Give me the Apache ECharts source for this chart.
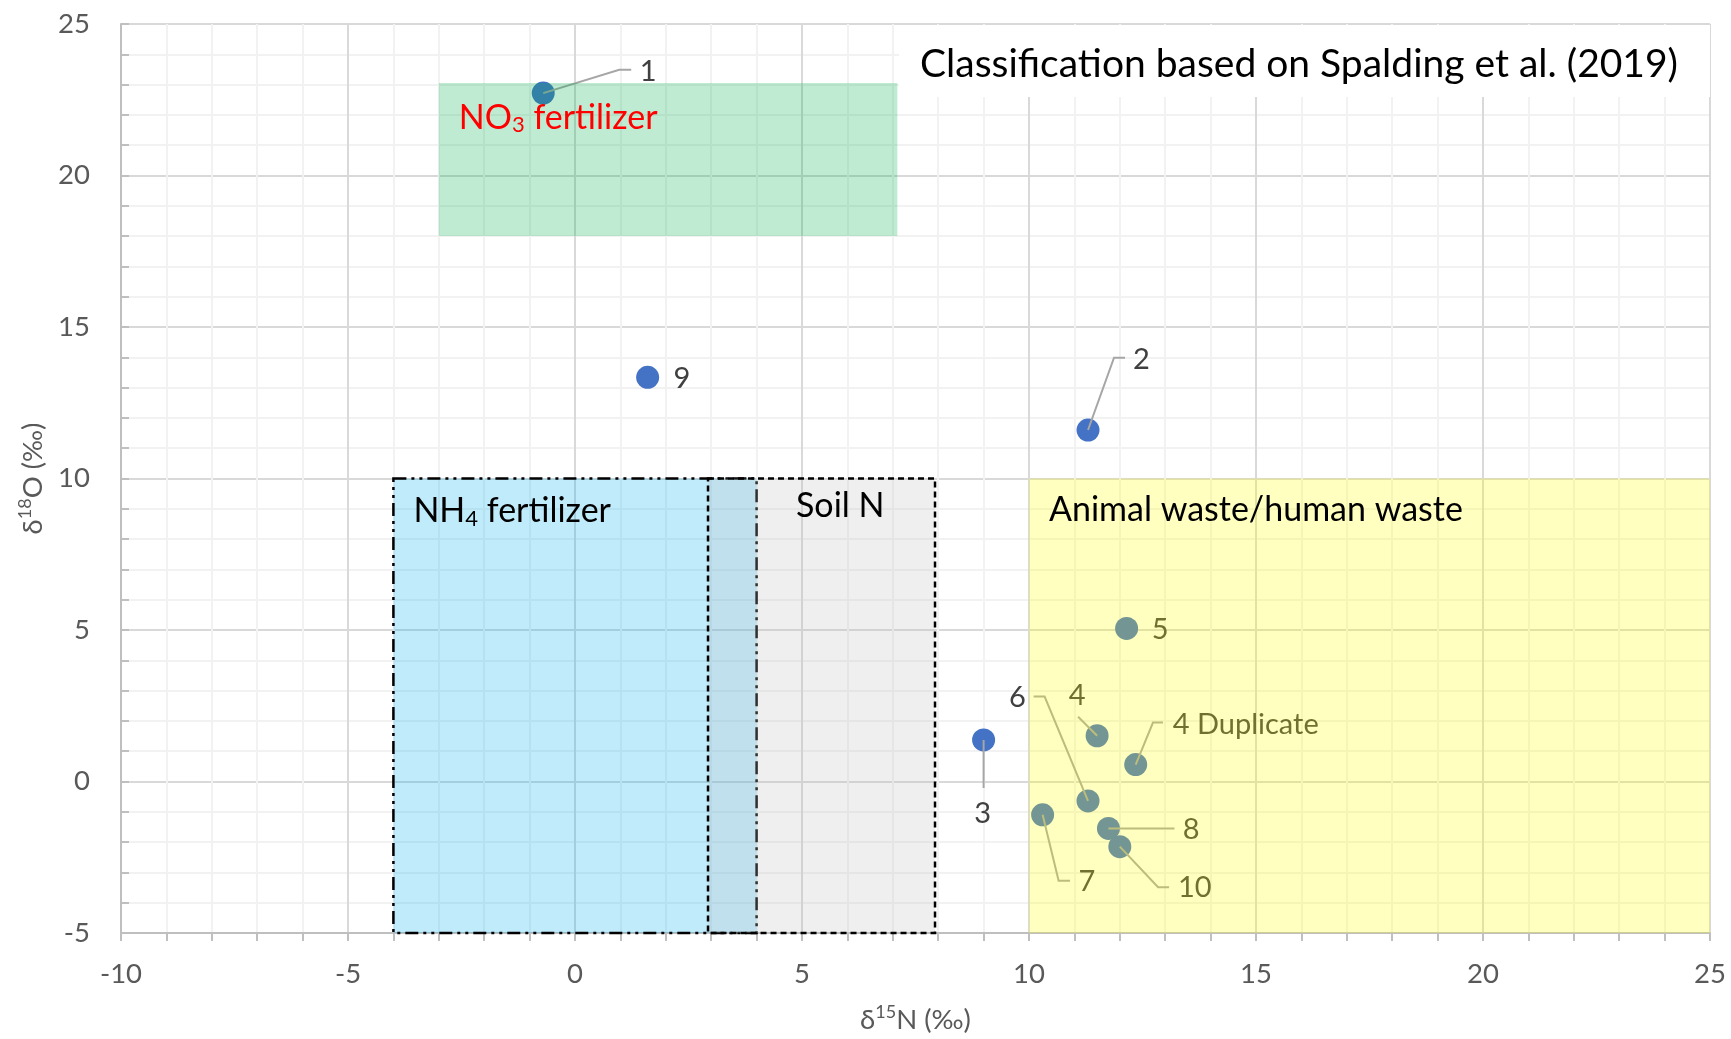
<!DOCTYPE html>
<html>
<head>
<meta charset="utf-8">
<title>Nitrate isotopes</title>
<script src="https://cdn.jsdelivr.net/npm/echarts@6/dist/echarts.min.js"></script>
<style>
  html, body { margin: 0; padding: 0; background: #fff; }
  #chart { width: 1731px; height: 1039px; }
</style>
</head>
<body>
<div id="chart"></div>
<script>
// samples
const sampleNames = ["1", "2", "3", "4", "5", "6", "7", "8", "9", "10", "4 Duplicate"];
const d15N = [-0.7, 11.3, 9.0, 11.5, 12.15, 11.3, 10.3, 11.75, 1.6, 12.0, 12.35];
const d18O = [22.72, 11.6, 1.37, 1.51, 5.05, -0.64, -1.1, -1.55, 13.34, -2.15, 0.56];

// source zones after Spalding et al. (2019)
const zoneNames = ["NO3 fertilizer", "NH4 fertilizer", "Soil N", "Animal waste/human waste"];
const zoneN = [[-3, 7.1], [-4, 4], [2.93, 7.93], [10, 25]];
const zoneO = [[18, 23.05], [-5, 10], [-5, 10], [-5, 10]];

// axes
const xRange = [-10, 25];
const yRange = [-5, 25];
const tickStep = 5;

const FONT = "Lato";
const AXIS_GRAY = "#bfbfbf";
const TEXT_GRAY = "#595959";

// look of each zone, text offset from top-left corner (px)
const zoneStyles = [
  { fill: "rgba(0,176,80,0.25)", color: "#ff0000", dx: 20, dy: 34 },
  { fill: "rgba(0,176,240,0.25)", stroke: "#000", dash: [13, 5, 3, 5, 3, 5], color: "#000", dx: 20, dy: 32 },
  { fill: "rgba(191,191,191,0.25)", stroke: "#000", dash: [6, 4], color: "#000", dx: 88, dy: 27 },
  { fill: "rgba(255,255,0,0.25)", color: "#000", dx: 20, dy: 31 },
];

// data label offset from marker centre (px) and leader line bends
const labelPlace = [
  { dx: 105, dy: -21.5, leader: [[76, -23.4], [88, -23.4]] },
  { dx: 53.5, dy: -70, leader: [[26, -72.3], [37, -72.3]] },
  { dx: -1, dy: 74, leader: [[0, 48]] },
  { dx: -20, dy: -40.5, leader: [[-19, -19]] },
  { dx: 33.6, dy: 1 },
  { dx: -70.7, dy: -103.2, leader: [[-43.4, -104.3], [-54.4, -104.3]] },
  { dx: 44.4, dy: 67, leader: [[16, 66], [27.4, 66]] },
  { dx: 82.6, dy: 1.3, leader: [[66, 0]] },
  { dx: 34.3, dy: 1 },
  { dx: 75, dy: 41.3, leader: [[38.3, 40.6], [49.3, 40.6]] },
  { dx: 37, dy: -40.2, align: "left", leader: [[17.3, -42], [27.3, -42]] },
];

// digits in a formula go to subscript
function richName(name) {
  return name
    .split(/(\d+)/)
    .filter((s) => s)
    .map((s) => (/^\d+$/.test(s) ? `{sub|${s}}` : `{n|${s}}`))
    .join("");
}

function zoneRich(color) {
  return {
    n: { fontFamily: FONT, fontSize: 34, color: color, lineHeight: 40, verticalAlign: "top", padding: [4, 0, 4, 0] },
    sub: { fontFamily: FONT, fontSize: 22, color: color, lineHeight: 22, verticalAlign: "bottom", padding: [0, 0, 1, 0] },
  };
}

function nameRich() {
  return {
    t: { fontFamily: FONT, fontSize: 27.5, color: TEXT_GRAY, lineHeight: 34 },
    sup: { fontFamily: FONT, fontSize: 18, color: TEXT_GRAY, lineHeight: 18, verticalAlign: "top" },
  };
}

const myChart = echarts.init(document.getElementById("chart"));

const points = d15N.map((v, i) => [v, d18O[i], i]);
const zones = zoneNames.map((n, i) => [zoneN[i][0], zoneN[i][1], zoneO[i][0], zoneO[i][1], i]);

function axisCommon() {
  return {
    type: "value",
    interval: tickStep,
    nameLocation: "middle",
    axisLine: { show: true, onZero: false, lineStyle: { color: AXIS_GRAY, width: 2 } },
    axisTick: { show: true, length: 8, lineStyle: { color: AXIS_GRAY, width: 2 } },
    minorTick: { show: true, splitNumber: 5, length: 8, lineStyle: { color: AXIS_GRAY, width: 2 } },
    splitLine: { show: true, lineStyle: { color: "#d9d9d9", width: 2 } },
    minorSplitLine: { show: true, lineStyle: { color: "#f2f2f2", width: 2 } },
  };
}

const options = {
  animation: false,
  backgroundColor: "#fff",
  title: {
    text: "Classification based on Spalding et al. (2019)",
    left: 899,
    top: 25,
    padding: [20, 0, 13, 21],
    backgroundColor: "#fff",
    textStyle: {
      color: "#000",
      fontFamily: FONT,
      fontSize: 39,
      fontWeight: "normal",
      lineHeight: 39,
      width: 790,
    },
  },
  grid: {
    left: 121,
    right: 21,
    top: 24,
    bottom: 106,
    containLabel: false,
    outerBoundsMode: "none",
  },
  xAxis: Object.assign(axisCommon(), {
    min: xRange[0],
    max: xRange[1],
    name: "{t|δ}{sup|15}{t|N (‰)}",
    nameGap: 70,
    nameTextStyle: { rich: nameRich() },
    axisLabel: { color: TEXT_GRAY, fontFamily: FONT, fontSize: 27.5, margin: 27 },
  }),
  yAxis: Object.assign(axisCommon(), {
    min: yRange[0],
    max: yRange[1],
    name: "{t|δ}{sup|18}{t|O (‰)}",
    nameGap: 69,
    nameRotate: 90,
    nameTextStyle: { rich: nameRich() },
    axisTick: { show: true, inside: true, length: 8, lineStyle: { color: AXIS_GRAY, width: 2 } },
    axisLabel: { color: TEXT_GRAY, fontFamily: FONT, fontSize: 27.5, margin: 31 },
  }),
  series: [
    {
      name: "samples",
      type: "scatter",
      z: 2,
      symbol: "circle",
      symbolSize: 23,
      itemStyle: { color: "#4472c4", opacity: 1 },
      data: points,
      silent: true,
    },
    {
      // labels with leader lines, kept under the zone fills like in the source
      name: "labels",
      type: "custom",
      z: 3,
      silent: true,
      data: points,
      renderItem: (params, api) => {
        const i = api.value(2);
        const c = api.coord([api.value(0), api.value(1)]);
        const p = labelPlace[i];
        const children = [];
        if (p.leader) {
          children.push({
            type: "polyline",
            shape: { points: [c].concat(p.leader.map((o) => [c[0] + o[0], c[1] + o[1]])) },
            style: { stroke: "#a6a6a6", lineWidth: 2, fill: "none" },
          });
        }
        children.push({
          type: "text",
          x: c[0] + p.dx,
          y: c[1] + p.dy,
          style: {
            text: sampleNames[i],
            fill: "#404040",
            fontFamily: FONT,
            fontSize: 29,
            align: p.align || "center",
            verticalAlign: "middle",
          },
        });
        return { type: "group", children: children };
      },
    },
    {
      name: "zones",
      type: "custom",
      z: 4,
      silent: true,
      data: zones,
      renderItem: (params, api) => {
        const i = api.value(4);
        const s = zoneStyles[i];
        const tl = api.coord([api.value(0), api.value(3)]);
        const br = api.coord([api.value(1), api.value(2)]);
        return {
          type: "group",
          children: [
            {
              type: "rect",
              shape: { x: tl[0], y: tl[1], width: br[0] - tl[0], height: br[1] - tl[1] },
              style: {
                fill: s.fill,
                stroke: s.stroke || null,
                lineWidth: s.stroke ? 2.5 : 0,
                lineDash: s.dash || null,
              },
            },
            {
              type: "text",
              z2: 10,
              x: tl[0] + s.dx,
              y: tl[1] + s.dy,
              style: {
                text: richName(zoneNames[i]),
                rich: zoneRich(s.color),
                fill: s.color,
                fontFamily: FONT,
                fontSize: 34,
                align: "left",
                verticalAlign: "middle",
              },
            },
          ],
        };
      },
    },
  ],
};

myChart.setOption(options);
window.addEventListener("resize", myChart.resize);
</script>
</body>
</html>
